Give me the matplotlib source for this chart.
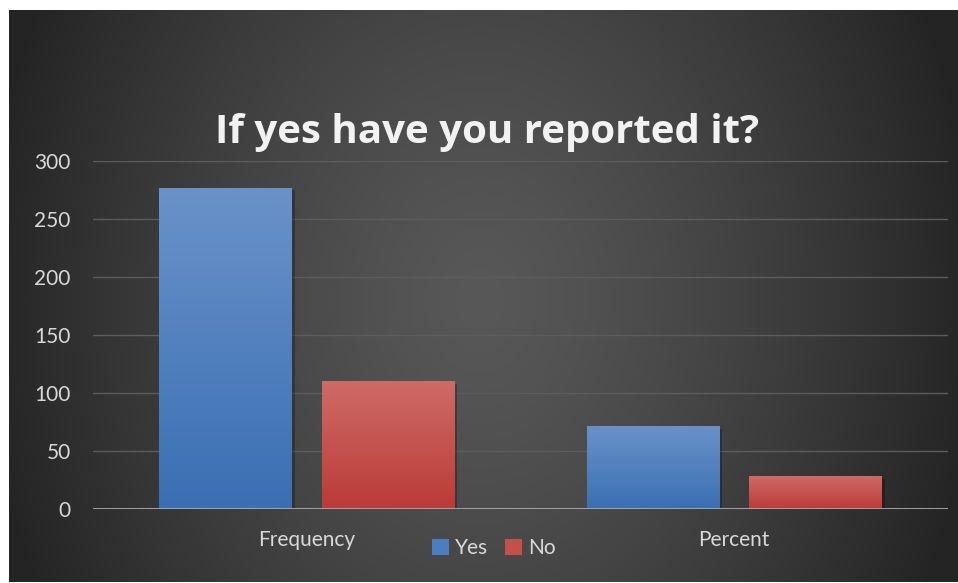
import numpy as np
import matplotlib.pyplot as plt
from matplotlib import patheffects as pe
from matplotlib.patches import Patch

categories = ['Frequency', 'Percent']
series_names = ['Yes', 'No']
yes_values = [277, 71.6]
no_values = [110, 28.4]
y_ticks = [0, 50, 100, 150, 200, 250, 300]
title = 'If yes have you reported it?'

plt.rcParams['font.family'] = ['Lato', 'DejaVu Sans']

fig = plt.figure(figsize=(9.58, 5.83), dpi=100)
fig.patch.set_facecolor('white')

# background radial gradient
bg = fig.add_axes([9/958, 1/583, 949/958, 572/583], zorder=0)
W, H = 949, 572
xx = np.arange(W)[None, :]
yy = np.arange(H)[:, None]
cx, cy = 480 - 9, 300 - 10
rr = np.sqrt(((xx - cx) / 500.0) ** 2 + ((yy - cy) / 650.0) ** 2)
v = 0x58 - (0x58 - 0x24) * np.clip(rr, 0, 1) ** 1.3
img = np.dstack([v, v, v]) / 255.0
bg.imshow(img, aspect='auto', extent=[0, 1, 0, 1], origin='upper', interpolation='bilinear')
bg.set_xlim(0, 1); bg.set_ylim(0, 1)
bg.axis('off')

ax = fig.add_axes([93/958, 74/583, 855/958, 348/583], zorder=1)
ax.set_facecolor('none')
x = np.arange(len(categories))
w = 0.31
off = 0.19
shadow = [pe.SimplePatchShadow(offset=(2, -2), shadow_rgbFace='black', alpha=0.25), pe.Normal()]
b1 = ax.bar(x - off, yes_values, w, color='#4f81c4', zorder=3, path_effects=shadow, label=series_names[0])
b2 = ax.bar(x + off, no_values, w, color='#c4504c', zorder=3, path_effects=shadow, label=series_names[1])


def grad(bars, top, bot):
    top = np.array(top) / 255.0
    bot = np.array(bot) / 255.0
    g = np.linspace(0, 1, 256)[:, None]
    c = top * (1 - g) + bot * g
    for p in bars:
        x0, y0 = p.get_x(), p.get_y()
        w_, h_ = p.get_width(), p.get_height()
        im = ax.imshow(c[:, None, :], extent=[x0, x0 + w_, y0, y0 + h_], aspect='auto',
                       origin='upper', zorder=3.5, interpolation='bilinear')
        im.set_clip_path(p)


grad(b1, (0x6a, 0x92, 0xc9), (0x3a, 0x6f, 0xb3))
grad(b2, (0xce, 0x6b, 0x67), (0xba, 0x3b, 0x37))

ax.set_xlim(-0.5, 1.5)
ax.set_ylim(0, 300)
ax.set_yticks(y_ticks)
ax.set_xticks(x)
ax.set_xticklabels(categories)
ax.yaxis.grid(True, color='#5c5c5c', lw=1)
ax.set_axisbelow(True)
for s in ax.spines.values():
    s.set_visible(False)
ax.axhline(0, color='#a8a8a8', lw=2.2, zorder=4, alpha=0.9)
ax.tick_params(length=0, labelcolor='#d9d9d9', labelsize=15)
ax.tick_params(axis='y', pad=16)
ax.tick_params(axis='x', pad=15)

fig.text(487/958, (583-143)/583, title, ha='center', va='baseline', color='#f2f2f2',
         fontsize=29, fontweight='bold', family=['Open Sans', 'DejaVu Sans'])

handles = [Patch(facecolor='#4a7ec0', label=series_names[0]),
           Patch(facecolor='#c4504c', label=series_names[1])]
fig.legend(handles=handles, loc='center', bbox_to_anchor=(494/958, (583-548)/583), ncol=2,
           frameon=False, fontsize=15, labelcolor='#d9d9d9', handlelength=0.8, handleheight=0.8,
           handletextpad=0.3, columnspacing=0.8, borderpad=0)

fig.savefig('out.png', dpi=100, facecolor=fig.get_facecolor())
